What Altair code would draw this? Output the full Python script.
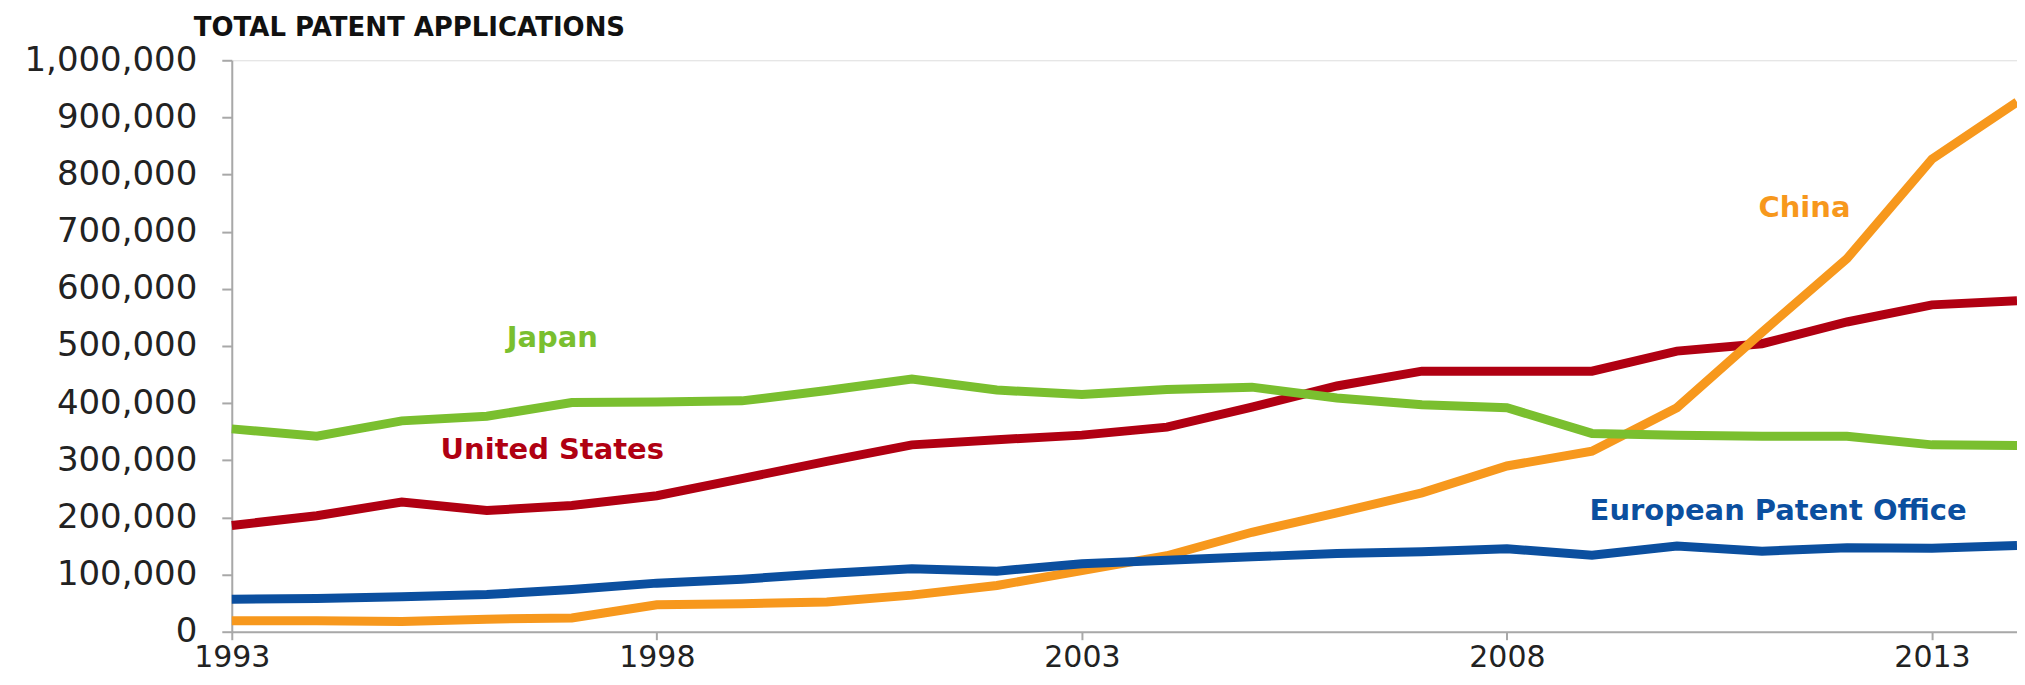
import altair as alt
import pandas as pd

years = list(range(1993, 2015))
united_states = [186000, 203000, 227000, 212000, 221000, 238000, 268000, 298000, 327000, 336000, 344000,
                 358000, 393000, 430000, 456000, 456000, 456000, 491000, 504000, 542000, 572000, 579000]
china = [19000, 19000, 18000, 22000, 24000, 47000, 49000, 52000, 64000, 81000, 107000,
         133000, 174000, 208000, 243000, 290000, 316000, 392000, 524000, 653000, 827000, 927000]
epo = [57000, 58000, 61000, 65000, 74000, 85000, 92000, 102000, 110000, 106000, 119000,
       125000, 131000, 137000, 140000, 145000, 134000, 150000, 141000, 147000, 146000, 151000]
japan = [355000, 342000, 369000, 377000, 401000, 402000, 404000, 422000, 442000, 423000, 415000,
         424000, 428000, 409000, 397000, 392000, 347000, 344000, 342000, 342000, 327000, 326000]

series_names = ["United States", "China", "European Patent Office", "Japan"]
series_values = [united_states, china, epo, japan]
series_colors = ["#B00012", "#F7981D", "#0B4F9F", "#7ABF2F"]

label_names = ["Japan", "United States", "China", "European Patent Office"]
label_years = [1996.77, 1996.77, 2011.5, 2011.19]
label_values = [514000, 318000, 741000, 211000]
label_colors = ["#7ABF2F", "#B00012", "#F7981D", "#0B4F9F"]

rows = []
for name, vals in zip(series_names, series_values):
    for yr, v in zip(years, vals):
        rows.append({"series": name, "year": yr, "value": v})
df = pd.DataFrame(rows)

labels_df = pd.DataFrame({"name": label_names, "year": label_years, "value": label_values,
                          "color": label_colors})

FONT = "DejaVu Sans"

x_enc = alt.X("year:Q",
              scale=alt.Scale(domain=[1993, 2014], nice=False, zero=False),
              axis=alt.Axis(values=[1993, 1998, 2003, 2008, 2013], format="d", title=None,
                            grid=False, tickSize=8, labelPadding=3, labelFlush=False,
                            labelFontSize=30, labelFont=FONT, labelColor="#222222",
                            domainColor="#A8A8A8", domainWidth=2, tickColor="#A8A8A8",
                            tickWidth=2, labelOverlap=False))
y_enc = alt.Y("value:Q",
              scale=alt.Scale(domain=[0, 1000000], nice=False),
              axis=alt.Axis(values=list(range(0, 1000001, 100000)), format=",d", title=None,
                            grid=False, tickSize=10, labelPadding=25,
                            labelFontSize=34, labelFont=FONT, labelColor="#222222",
                            domainColor="#A8A8A8", domainWidth=2, tickColor="#A8A8A8",
                            tickWidth=2, labelOverlap=False))

layers = []
for name, color in zip(series_names, series_colors):
    layers.append(
        alt.Chart(df).transform_filter(alt.datum.series == name)
        .mark_line(strokeWidth=9, color=color, strokeJoin="miter", strokeCap="butt")
        .encode(x=x_enc, y=y_enc)
    )

text_layer = alt.Chart(labels_df).mark_text(
    font=FONT, fontSize=29, fontWeight="bold", align="center", baseline="middle"
).encode(
    x=alt.X("year:Q"),
    y=alt.Y("value:Q"),
    text="name:N",
    color=alt.Color("color:N", scale=None),
)

chart = alt.layer(*layers, text_layer).properties(
    width=1787,
    height=572,
    title=alt.TitleParams("TOTAL PATENT APPLICATIONS", anchor="start", frame="group",
                          dx=-38, offset=2, fontSize=26, font=FONT, fontWeight="bold",
                          color="#111111"),
    padding={"left": 224, "top": 52, "right": 0, "bottom": 44},
    autosize="none",
).configure_view(stroke=None).configure(background="white")

chart.save("out.html", embed_options={"renderer": "svg", "actions": False})
